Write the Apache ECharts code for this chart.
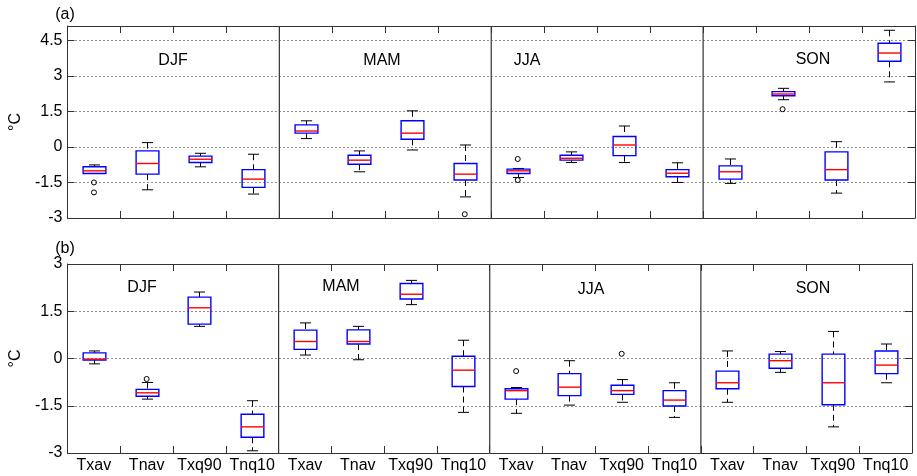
<!DOCTYPE html>
<html>
<head>
<meta charset="utf-8">
<script src="https://cdn.jsdelivr.net/npm/echarts@6/dist/echarts.min.js"></script>
<style>
  html, body { margin: 0; padding: 0; background: #fff; }
  #chart { width: 917px; height: 476px; }
</style>
</head>
<body>
<div id="chart"></div>
<script>
var seasons = ["DJF", "MAM", "JJA", "SON"];
var indices = ["Txav", "Tnav", "Txq90", "Tnq10"];
var categories = [];
seasons.forEach(function (s) {
  indices.forEach(function (ix) { categories.push(s + "|" + ix); });
});

// [low whisker, q1, median, q3, high whisker] per category, in order
var boxesA = [
  [-1.12, -1.12, -1.01, -0.84, -0.76],
  [-1.81, -1.15, -0.70, -0.17, 0.18],
  [-0.84, -0.66, -0.52, -0.39, -0.27],
  [-1.99, -1.71, -1.36, -0.96, -0.31],
  [0.35, 0.58, 0.67, 0.93, 1.10],
  [-1.05, -0.73, -0.56, -0.35, -0.17],
  [-0.13, 0.32, 0.58, 1.10, 1.52],
  [-2.11, -1.40, -1.15, -0.70, 0.08],
  [-1.29, -1.12, -1.01, -0.94, -0.91],
  [-0.66, -0.56, -0.48, -0.35, -0.21],
  [-0.66, -0.37, 0.08, 0.44, 0.88],
  [-1.50, -1.26, -1.11, -0.96, -0.67],
  [-1.54, -1.36, -1.05, -0.80, -0.51],
  [1.99, 2.16, 2.23, 2.33, 2.47],
  [-1.95, -1.40, -0.96, -0.21, 0.22],
  [2.74, 3.61, 3.96, 4.37, 4.92]
];
var outliersA = [[0, -1.50], [0, -1.92], [7, -2.84], [8, -0.51], [8, -1.40], [13, 1.59]];

var boxesB = [
  [-0.17, -0.05, -0.02, 0.18, 0.24],
  [-1.29, -1.20, -1.09, -0.98, -0.76],
  [1.02, 1.09, 1.61, 1.95, 2.11],
  [-2.93, -2.50, -2.17, -1.77, -1.34],
  [0.11, 0.29, 0.54, 0.90, 1.13],
  [-0.04, 0.46, 0.54, 0.91, 1.02],
  [1.71, 1.89, 2.04, 2.38, 2.48],
  [-1.71, -0.89, -0.37, 0.07, 0.58],
  [-1.74, -1.29, -1.02, -0.96, -0.92],
  [-1.48, -1.18, -0.91, -0.48, -0.07],
  [-1.39, -1.14, -1.02, -0.85, -0.67],
  [-1.87, -1.51, -1.32, -1.02, -0.77],
  [-1.39, -0.96, -0.77, -0.40, 0.24],
  [-0.44, -0.31, -0.07, 0.14, 0.22],
  [-2.17, -1.47, -0.77, 0.14, 0.86],
  [-0.77, -0.48, -0.21, 0.24, 0.46]
];
var outliersB = [[1, -0.65], [8, -0.40], [10, 0.15]];

// last category index of each season, a divider goes after it
var seasonEnds = [3, 7, 11];

var FONT = "Liberation Sans, Arial, sans-serif";
var AXIS_COLOR = "#333";

var myChart = echarts.init(document.getElementById("chart"));

function toRows(boxes) {
  return boxes.map(function (b, i) { return [i].concat(b); });
}

function renderBox(params, api) {
  var x = api.value(0);
  var low = api.coord([x, api.value(1)]);
  var q1 = api.coord([x, api.value(2)]);
  var med = api.coord([x, api.value(3)]);
  var q3 = api.coord([x, api.value(4)]);
  var high = api.coord([x, api.value(5)]);
  var band = api.size([1, 0])[0];
  var bw = band * 0.43;
  var cw = band * 0.21;
  var cx = Math.round(low[0]) + 0.5;
  var blk = { stroke: "#000", lineWidth: 1 };
  var dash = { stroke: "#000", lineWidth: 1, lineDash: [6, 4] };
  return {
    type: "group",
    children: [
      { type: "line", shape: { x1: cx, y1: high[1], x2: cx, y2: q3[1] }, style: dash },
      { type: "line", shape: { x1: cx, y1: q1[1], x2: cx, y2: low[1] }, style: dash },
      { type: "line", shape: { x1: cx - cw / 2, y1: high[1], x2: cx + cw / 2, y2: high[1] }, style: blk },
      { type: "line", shape: { x1: cx - cw / 2, y1: low[1], x2: cx + cw / 2, y2: low[1] }, style: blk },
      { type: "rect", shape: { x: cx - bw / 2, y: q3[1], width: bw, height: q1[1] - q3[1] },
        style: { fill: "none", stroke: "#0000ff", lineWidth: 1.4 } },
      { type: "line", shape: { x1: cx - bw / 2, y1: med[1], x2: cx + bw / 2, y2: med[1] },
        style: { stroke: "#ff0000", lineWidth: 1.4 } }
    ]
  };
}

function renderDivider(params, api) {
  var band = api.size([1, 0])[0];
  var x = api.coord([api.value(0), 0])[0] + band / 2;
  var cs = params.coordSys;
  return {
    type: "line",
    shape: { x1: x, y1: cs.y, x2: x, y2: cs.y + cs.height },
    style: { stroke: AXIS_COLOR, lineWidth: 1.2 }
  };
}

function xAxisFor(gridIndex, position, showLabel) {
  return {
    type: "category",
    gridIndex: gridIndex,
    position: position,
    data: categories,
    boundaryGap: true,
    axisLine: { show: true, onZero: false, lineStyle: { color: AXIS_COLOR, width: 1 } },
    axisTick: { show: true, inside: true, length: 7, lineStyle: { color: AXIS_COLOR } },
    axisLabel: {
      show: showLabel,
      interval: 0,
      margin: 5,
      color: "#000",
      fontFamily: FONT,
      fontSize: 16,
      formatter: function (v) { return v.split("|")[1]; }
    },
    splitLine: { show: false }
  };
}

function yAxisFor(gridIndex, position, min, max, main, nameGap, hideMax) {
  return {
    type: "value",
    gridIndex: gridIndex,
    position: position,
    min: min,
    max: max,
    interval: 1.5,
    name: main ? "°C" : "",
    nameLocation: "middle",
    nameRotate: 90,
    nameGap: nameGap,
    nameTextStyle: { color: "#000", fontFamily: FONT, fontSize: 16 },
    axisLine: { show: true, onZero: false, lineStyle: { color: AXIS_COLOR, width: 1 } },
    axisTick: { show: true, inside: true, length: 7, lineStyle: { color: AXIS_COLOR } },
    axisLabel: {
      show: main,
      margin: 5,
      color: "#000",
      fontFamily: FONT,
      fontSize: 16,
      showMaxLabel: !hideMax,
      showMinLabel: true
    },
    splitLine: main ? { show: true, lineStyle: { color: "#222", type: [1, 3], width: 1 } } : { show: false }
  };
}

function boxSeries(axisIndex, boxes) {
  return {
    type: "custom",
    xAxisIndex: axisIndex,
    yAxisIndex: axisIndex,
    renderItem: renderBox,
    encode: { x: 0, y: [1, 2, 3, 4, 5] },
    data: toRows(boxes),
    z: 3
  };
}

function outlierSeries(axisIndex, pts) {
  return {
    type: "scatter",
    xAxisIndex: axisIndex,
    yAxisIndex: axisIndex,
    symbol: "circle",
    symbolSize: 5,
    itemStyle: { color: "rgba(255,255,255,0)", borderColor: "#000", borderWidth: 1, opacity: 1 },
    data: pts,
    z: 4
  };
}

function dividerSeries(axisIndex) {
  return {
    type: "custom",
    xAxisIndex: axisIndex,
    yAxisIndex: axisIndex,
    renderItem: renderDivider,
    encode: { x: 0, y: 1 },
    data: seasonEnds.map(function (e) { return [e, 0]; }),
    z: 2
  };
}

function label(text, x, y) {
  return {
    type: "text",
    x: x,
    y: y,
    style: { text: text, fill: "#000", font: "16px " + FONT, align: "center", verticalAlign: "middle" }
  };
}

myChart.setOption({
  animation: false,
  backgroundColor: "#fff",
  grid: [
    { left: 59, top: 26, width: 856, height: 192 },
    { left: 53, top: 264, width: 859, height: 189 }
  ],
  xAxis: [
    xAxisFor(0, "bottom", false),
    xAxisFor(0, "top", false),
    xAxisFor(1, "bottom", true),
    xAxisFor(1, "top", false)
  ],
  yAxis: [
    yAxisFor(0, "left", -3, 5.1, true, 34, true),
    yAxisFor(0, "right", -3, 5.1, false, 0, true),
    yAxisFor(1, "left", -3, 3, true, 28, false),
    yAxisFor(1, "right", -3, 3, false, 0, false)
  ],
  graphic: [
    label("(a)", 65, 15),
    label("(b)", 65, 249),
    label(seasons[0], 173, 61),
    label(seasons[1], 382, 61),
    label(seasons[2], 527, 61),
    label(seasons[3], 813, 60),
    label(seasons[0], 142, 288),
    label(seasons[1], 341, 287),
    label(seasons[2], 591, 290),
    label(seasons[3], 813, 289)
  ],
  series: [
    dividerSeries(0),
    boxSeries(0, boxesA),
    outlierSeries(0, outliersA),
    dividerSeries(2),
    boxSeries(2, boxesB),
    outlierSeries(2, outliersB)
  ]
});
</script>
</body>
</html>
